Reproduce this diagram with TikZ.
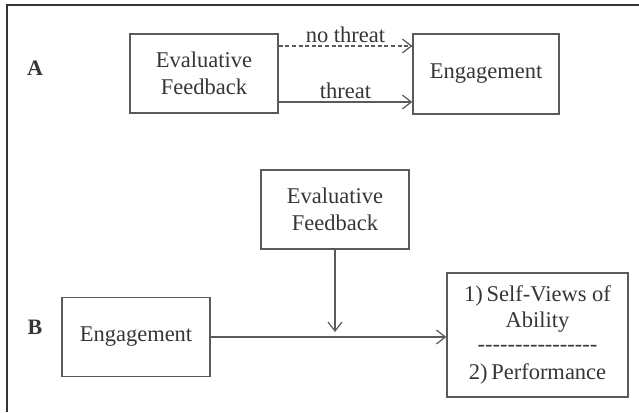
\documentclass[tikz,border=0pt]{standalone}
\usepackage{fontspec}
\setmainfont{Liberation Serif}
\usetikzlibrary{arrows.meta, positioning}
\definecolor{ink}{HTML}{363636}
\definecolor{edge}{HTML}{5A5A5A}
\definecolor{frame}{HTML}{333333}
\tikzset{
  box/.style      = {rectangle, draw=edge, line width=1.4pt, fill=white,
                      align=center, text=ink, inner sep=0pt,
                      font=\fontsize{22.5}{27}\selectfont},
  panel/.style    = {font=\fontsize{22}{27}\selectfont\bfseries, text=ink},
  tag/.style      = {font=\fontsize{22.5}{27}\selectfont, text=ink, inner sep=0pt},
  link/.style     = {-{Straight Barb[length=9pt, width=14pt, line width=1.2pt]},
                      line width=1.4pt, draw=edge},
  linkdash/.style = {link, dash pattern=on 4pt off 2.6pt},
}
% row of plain hyphens, kept apart so they never join into dashes
\newcommand\hyphenrow{\foreach \k in {1,...,16}{-\kern0pt}}

\begin{document}
\begin{tikzpicture}[x=1pt, y=-1pt]
  \useasboundingbox (0,0) rectangle (639,412);
  % open frame: top and left sides only
  \draw[frame, line width=1.6pt] (639,5) -- (7,5) -- (7,412);

  % panel A
  \node[panel] (labA) at (35,68) {A};
  \node[box, minimum width=148pt, minimum height=79pt] (feedA) at (204,73.5)
    {Evaluative\\Feedback};
  \node[box, minimum width=146pt, minimum height=80pt] (engA) at (486,74)
    {Engagement};
  \draw[linkdash] ([yshift=27.5pt]feedA.east) -- ([yshift=28pt]engA.west)
    node[tag, midway, above=3pt] (noth) {no threat};
  \draw[link] ([yshift=-28.5pt]feedA.east) -- ([yshift=-28pt]engA.west)
    node[tag, midway, above=3pt] (thr) {threat};

  % panel B
  \node[panel] (labB) at (35,327) {B};
  \node[box, minimum width=148pt, minimum height=79pt] (feedB) at (335,209.5)
    {Evaluative\\Feedback};
  \node[box, minimum width=148pt, minimum height=79pt] (engB) at (136,337)
    {Engagement};
  \node[box, minimum width=181pt, minimum height=124pt] (outB) at (537.5,335)
    {1)\,Self-Views of\\[-1pt]Ability\\[-3pt]\hyphenrow\\[1pt]2)\,Performance};
  \coordinate (meet) at (feedB.south |- engB.east);
  \draw[link] (engB.east) -- (engB.east -| outB.west);
  \draw[link] (feedB.south) -- ([yshift=5pt]meet);
\end{tikzpicture}
\end{document}
